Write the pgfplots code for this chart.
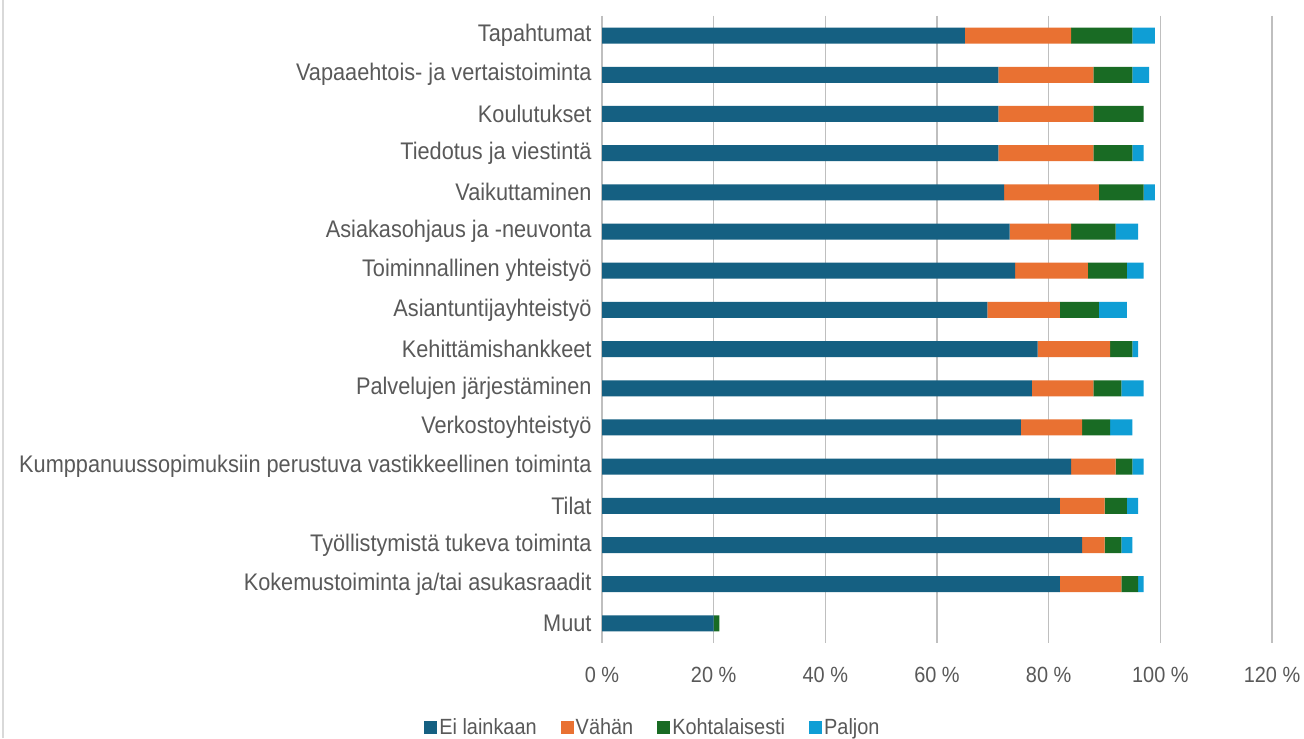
\documentclass[border=0pt]{standalone}
\usepackage{pgfplots}
\usepackage{pgfplotstable}
\pgfplotsset{compat=1.18}
\usepackage{fontspec}
\setmainfont[FakeStretch=0.905]{Liberation Sans}
\definecolor{cEi}{HTML}{156082}
\definecolor{cVa}{HTML}{E97132}
\definecolor{cKo}{HTML}{196B24}
\definecolor{cPa}{HTML}{0F9ED5}
\definecolor{txt}{HTML}{595959}
\definecolor{grid}{HTML}{D9D9D9}
\pgfplotstableread{
y ei vah koh pal
0 65 19 11 4
1 71 17 7 3
2 71 17 9 0
3 71 17 7 2
4 72 17 8 2
5 73 11 8 4
6 74 13 7 3
7 69 13 7 5
8 78 13 4 1
9 77 11 5 4
10 75 11 5 4
11 84 8 3 2
12 82 8 4 2
13 86 4 3 2
14 82 11 3 1
15 20 0 1 0
}\data
\begin{document}
\begin{tikzpicture}[x=1bp,y=1bp]
\useasboundingbox (0,0) rectangle (1304,738);
\fill[white] (0,0) rectangle (1304,738);
\draw[grid, line width=1.5bp] (3,0) -- (3,738);
\begin{axis}[
  at={(602bp,95bp)}, anchor=south west,
  width=670bp, height=627bp, scale only axis,
  xbar stacked, bar width=16bp,
  xmin=0, xmax=120, ymin=-0.5, ymax=15.5,
  y dir=reverse,
  xtick={0,20,...,120},
  xticklabel={\pgfmathprintnumber{\tick}~\%},
  /pgf/number format/assume math mode=true,
  ytick={0,...,15},
  yticklabels={Tapahtumat, Vapaaehtois- ja vertaistoiminta, Koulutukset, Tiedotus ja viestintä, Vaikuttaminen, Asiakasohjaus ja -neuvonta, Toiminnallinen yhteistyö, Asiantuntijayhteistyö, Kehittämishankkeet, Palvelujen järjestäminen, Verkostoyhteistyö, Kumppanuussopimuksiin perustuva vastikkeellinen toiminta, Tilat, Työllistymistä tukeva toiminta, Kokemustoiminta ja/tai asukasraadit, Muut},
  axis line style={draw=none},
  major tick length=0pt,
  xtick style={draw=none}, ytick style={draw=none},
  xmajorgrids, ymajorgrids=false, grid style={grid, line width=1.2bp},
  yticklabel style={font=\fontsize{24bp}{28bp}\selectfont, text=txt, xshift=-7bp},
  xticklabel style={font=\fontsize{22bp}{26bp}\selectfont, text=txt, yshift=-21bp},
  legend columns=4,
  legend style={at={(0.076,-0.134)}, anchor=center, draw=none, fill=none,
    font=\fontsize{22bp}{26bp}\selectfont, text=txt,
    /tikz/every even column/.append style={column sep=22bp}},
  legend image code/.code={\fill[#1] (0bp,-6.5bp) rectangle (13bp,6.5bp);},
]
\addplot[fill=cEi, draw=none] table[x=ei, y=y]{\data};
\addplot[fill=cVa, draw=none] table[x=vah, y=y]{\data};
\addplot[fill=cKo, draw=none] table[x=koh, y=y]{\data};
\addplot[fill=cPa, draw=none] table[x=pal, y=y]{\data};
\legend{Ei lainkaan, Vähän, Kohtalaisesti, Paljon}
\end{axis}
\end{tikzpicture}
\end{document}
